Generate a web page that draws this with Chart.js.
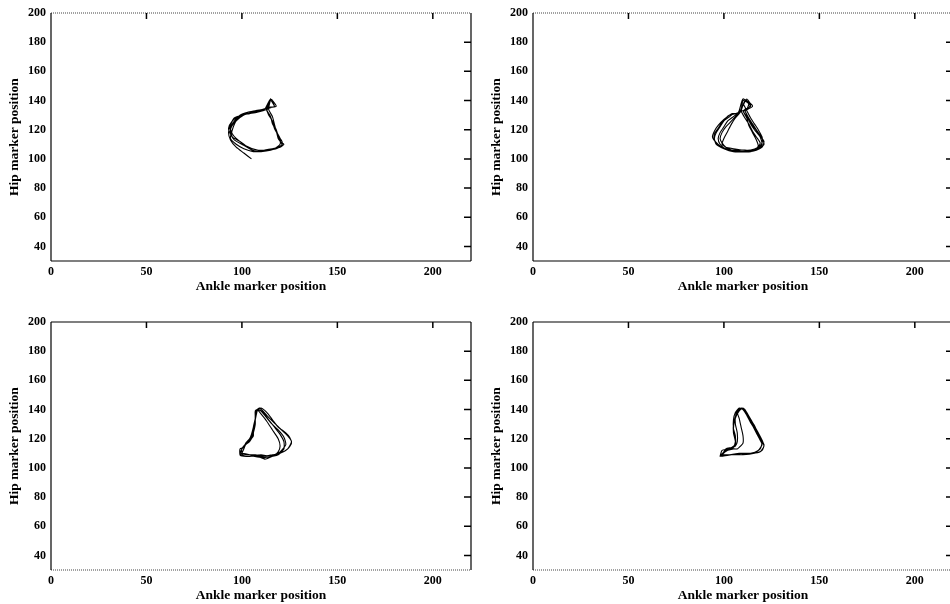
<!DOCTYPE html>
<html>
<head>
<meta charset="utf-8">
<script src="https://cdn.jsdelivr.net/npm/chart.js@4/dist/chart.umd.min.js"></script>
<style>
  body { margin:0; background:#fff; width:950px; height:604px; overflow:hidden; position:relative; }
  canvas { position:absolute; }
</style>
</head>
<body>
<canvas id="c1" width="482" height="300" style="left:0;top:0"></canvas>
<canvas id="c2" width="482" height="300" style="left:482px;top:0"></canvas>
<canvas id="c3" width="482" height="300" style="left:0;top:309px"></canvas>
<canvas id="c4" width="482" height="300" style="left:482px;top:309px"></canvas>
<script>
// axis ticks
const xTicks = [0, 50, 100, 150, 200];
const yTicks = [40, 60, 80, 100, 120, 140, 160, 180, 200];

// panel 1 (top left): ankle vs hip marker trace
const ankle1 = [105,101,97,94,93,94,96,100,104,108,111,113,115,116,118,114,113,115,116,118,119,121,121,118,114,110,107,
                103,99,95,94,96,99,103,107,111,113,115,117,113,114,116,117,119,120,122,120,116,112,108,
                104,100,96,94,93,95,98,102,106,110,112,114,115,114,116,117,118,120,120,117,112,
                108,102,97,95,94,96,99,103,107,111,113,115,117,113,115,116,118,119,121,119,115,110,106,
                101,97,94,95,97,101,105,109,112];
const hip1   = [100,104,108,113,118,123,128,130,131,132,133,134,141,140,136,135,133,129,125,120,116,112,109,107,106,105,105,
                108,112,115,120,125,129,131,132,133,134,141,136,135,130,126,121,116,112,110,108,107,106,105,
                107,110,113,117,121,126,129,131,132,133,134,139,141,134,129,124,119,114,110,107,106,
                106,109,114,117,121,126,130,132,133,134,135,140,136,134,129,124,119,114,110,108,106,105,105,
                107,110,114,120,126,130,132,133,134];

// panel 2 (top right)
const ankle2 = [110,112,114,116,118,120,120,118,114,109,104,100,97,95,95,97,99,101,103,106,108,109,110,112,114,111,
                111,113,115,117,119,121,120,117,113,108,103,99,96,94,95,97,100,102,104,107,109,110,113,115,111,
                110,112,113,115,117,118,117,114,110,105,101,99,100,102,104,106,108,109,111,113,112,
                111,113,115,118,120,121,119,115,110,105,100,96,95,96,98,100,103,105,107,108,110,114,113,110,
                109,111,113,115,117,119,118,115,111,106,101,98,97,98,100,102,104,106,108,109,112,114,112,
                110,112,114,116,119,120,118,114,109,104,101,99,98,99,101,104,106,108,109];
const hip2   = [138,133,128,124,120,115,111,108,106,106,106,107,110,113,117,121,125,128,130,131,132,134,140,139,136,134,
                133,128,124,120,116,112,108,106,105,105,106,108,111,115,119,123,127,129,131,131,133,141,139,136,133,
                133,128,123,118,113,109,107,106,106,107,108,110,114,119,124,128,131,133,140,138,134,
                133,128,123,118,114,110,108,106,105,105,107,110,114,118,122,126,129,131,131,133,141,138,135,133,
                133,128,124,119,115,111,108,106,106,106,107,110,114,118,122,126,128,130,132,134,141,137,134,
                133,129,124,120,115,110,107,105,105,106,108,111,114,118,122,126,129,132,134];

// panel 3 (bottom left)
const ankle3 = [100,104,108,112,116,120,124,126,125,123,119,116,113,110,108,107,107,106,106,105,104,103,101,100,100,
                101,106,111,116,119,122,122,120,117,114,111,109,107,107,106,106,105,103,102,100,99,
                102,107,112,117,119,120,119,116,113,110,108,107,107,106,105,104,102,101,99,99,
                100,104,108,112,116,120,123,122,119,115,112,110,108,107,107,106,105,103,101,100,99,
                101,105,110,115,120,124,126,124,120,116,113,111,109,108,107,106,105,104,102,101,100];
const hip3   = [109,109,108,108,109,110,113,117,121,124,128,133,138,141,140,136,131,126,122,120,118,117,115,113,110,
                108,108,107,108,109,113,118,123,128,133,138,140,139,134,128,123,120,117,116,113,109,
                109,109,108,109,111,115,120,126,132,137,140,139,134,128,123,120,117,114,113,109,
                110,109,108,106,108,111,116,121,126,131,136,139,140,136,130,124,120,118,115,113,109,
                108,108,109,108,110,113,118,122,127,132,136,139,141,139,133,127,122,119,116,113,110];

// panel 4 (bottom right)
const ankle4 = [98,99,102,105,106,106,105,105,106,108,110,112,114,116,118,120,121,119,115,110,105,101,98,
                99,101,104,106,107,107,106,106,107,109,111,113,115,117,119,120,118,114,108,103,99,
                98,100,103,105,106,105,105,106,107,109,111,114,117,119,121,120,116,110,104,99,
                99,102,105,107,108,110,110,109,108,107,109,111,113,116,118,120,119,115,109,104,100,
                98,101,104,106,106,105,106,108,110,112,115,118,120,121,119,114,108,102,98];
const hip4   = [108,112,113,114,117,122,127,133,138,141,140,136,131,127,122,118,115,111,110,110,109,109,108,
                109,113,114,115,118,124,130,135,139,141,139,134,129,124,119,116,112,110,110,109,109,
                108,111,113,114,118,124,130,135,139,141,140,132,125,120,116,112,110,109,109,108,
                109,112,113,113,114,117,122,128,134,138,141,140,135,129,123,118,113,110,110,109,109,
                108,112,114,116,121,127,134,139,141,138,131,124,119,115,111,110,109,109,108];

const serif = "'Liberation Serif', 'DejaVu Serif', serif";

// frame with inward ticks on top and right, one dotted side
const framePlugin = {
  id: 'frame',
  afterDraw(chart, args, opts) {
    const ctx = chart.ctx, a = chart.chartArea, sx = chart.scales.x, sy = chart.scales.y;
    ctx.save();
    ctx.lineWidth = 1.2;
    ctx.strokeStyle = '#000';
    const side = (name, x1, y1, x2, y2) => {
      ctx.save();
      if (opts.dotted === name) { ctx.setLineDash([1, 1]); ctx.strokeStyle = '#444'; ctx.lineWidth = 1; }
      ctx.beginPath(); ctx.moveTo(x1, y1); ctx.lineTo(x2, y2); ctx.stroke();
      ctx.restore();
    };
    side('top', a.left, a.top, a.right, a.top);
    side('bottom', a.left, a.bottom, a.right, a.bottom);
    side('left', a.left, a.top, a.left, a.bottom);
    side('right', a.right, a.top, a.right, a.bottom);
    ctx.lineWidth = 1.5;
    ctx.beginPath();
    sx.ticks.forEach(t => {
      if (t.value === 0) return;
      const px = sx.getPixelForValue(t.value);
      ctx.moveTo(px, a.top); ctx.lineTo(px, a.top + 6);
    });
    sy.ticks.forEach(t => {
      if (t.value === 200) return;
      const py = sy.getPixelForValue(t.value);
      ctx.moveTo(a.right - 7, py); ctx.lineTo(a.right, py);
    });
    ctx.stroke();
    ctx.restore();
  }
};

function makePanel(id, ankle, hip, dotted) {
  const pts = ankle.map((v, i) => ({x: v, y: hip[i]}));
  new Chart(document.getElementById(id), {
    type: 'scatter',
    data: {
      datasets: [{
        data: pts,
        showLine: true,
        borderColor: '#000',
        borderWidth: 1.1,
        pointRadius: 0,
        tension: 0.2
      }]
    },
    options: {
      responsive: false,
      animation: false,
      layout: {padding: {top: 13, right: 11, left: 0, bottom: 0}},
      plugins: {legend: {display: false}, tooltip: {enabled: false}, frame: {dotted: dotted}},
      scales: {
        x: {
          type: 'linear', min: 0, max: 220,
          afterBuildTicks: s => { s.ticks = xTicks.map(v => ({value: v})); },
          afterFit: s => { s.height = 39; },
          grid: {display: false, drawTicks: false},
          border: {display: false},
          ticks: {color: '#000', padding: 4, font: {family: serif, size: 12, weight: 'bold'}},
          title: {display: true, text: 'Ankle marker position', color: '#000',
                  padding: {top: 0, bottom: 5}, font: {family: serif, size: 13.5, weight: 'bold'}}
        },
        y: {
          type: 'linear', min: 30, max: 200,
          afterBuildTicks: s => { s.ticks = yTicks.map(v => ({value: v})); },
          afterFit: s => { s.width = 51; },
          grid: {display: false, drawTicks: false},
          border: {display: false},
          ticks: {color: '#000', padding: 5, font: {family: serif, size: 12, weight: 'bold'}},
          title: {display: true, text: 'Hip marker position', color: '#000',
                  padding: {top: 6, bottom: 0}, font: {family: serif, size: 13.5, weight: 'bold'}}
        }
      }
    },
    plugins: [framePlugin]
  });
}

makePanel('c1', ankle1, hip1, 'top');
makePanel('c2', ankle2, hip2, 'top');
makePanel('c3', ankle3, hip3, 'bottom');
makePanel('c4', ankle4, hip4, 'bottom');
</script>
</body>
</html>
